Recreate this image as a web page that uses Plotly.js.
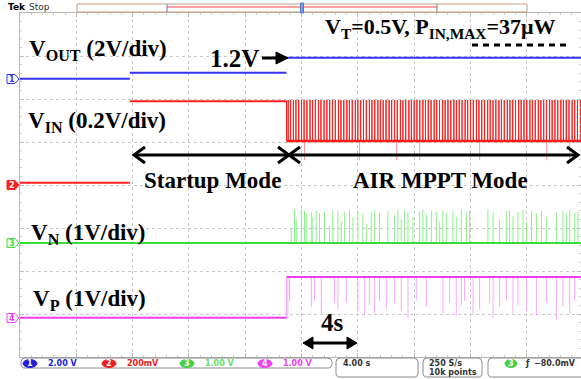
<!DOCTYPE html>
<html><head><meta charset="utf-8">
<script src="https://cdn.plot.ly/plotly-3.0.1.min.js"></script>
<style>body{margin:0;background:#fff}</style>
</head><body><div id="chart" style="width:581px;height:379px"></div>
<script>
// ---------------- data (time in s, voltages in V) ----------------
const endTime = 19.85;
const voutStepTimes = [-20, -12.2, -1.07, 19.85];
const voutStepLevels = [0, 0.28, 0.98];

const vinStepTimes = [-20, -12.2, -1.07];
const vinStepLevels = [0.01, 0.39, 0.205];
const vinSpikeTimes = [-0.95,-0.78,-0.58,-0.4,-0.2,0.0,0.18,0.38,0.6,0.78,0.98,1.2,1.38,1.6,1.8,2.0,2.2,2.4,2.62,2.8,3.0,3.22,3.4,3.6,3.82,4.0,4.2,4.4,4.6,4.82,5.0,5.2,5.42,5.6,5.8,6.0,6.22,6.4,6.6,6.8,7.02,7.2,7.4,7.62,7.8,8.0,8.2,8.4,8.62,8.8,9.0,9.2,9.42,9.6,9.8,10.02,10.2,10.4,10.6,10.82,11.0,11.2,11.4,11.62,11.8,12.0,12.2,12.42,12.6,12.8,13.0,13.22,13.4,13.6,13.8,14.02,14.2,14.4,14.62,14.8,15.0,15.2,15.42,15.6,15.8,16.0,16.22,16.4,16.6,16.82,17.0,17.2,17.4,17.62,17.8,18.0,18.2,18.42,18.6,18.8,19.0,19.22,19.4,19.6,19.8];
const vinSpikeTop = 0.395;
const vinDipTimes = [0.21, 4.12, 6.75, 8.39, 12.65, 17.41, 19.05];
const vinDipLevel = 0.115;

const vnSpikeTimes = [-0.73,-0.50,-0.38,-0.02,0.21,0.33,0.69,0.80,1.04,1.28,1.63,1.99,2.22,2.58,2.82,3.06,3.41,3.65,4.00,4.36,4.60,4.95,5.19,5.54,6.13,6.61,6.84,7.08,7.32,7.56,7.91,8.39,8.62,8.86,9.22,9.57,9.81,10.04,10.28,10.75,10.99,11.35,11.71,11.94,13.24,13.60,14.07,14.55,14.78,15.02,15.37,15.73,15.97,16.33,16.68,17.04,17.39,18.10,18.57,18.81,19.05,19.40,19.64];
const vnSpikeHeights = [0.35,0.78,0.55,0.78,0.75,0.7,0.72,0.6,0.75,0.7,0.72,0.4,0.76,0.74,0.5,0.72,0.77,0.6,0.74,0.68,0.45,0.72,0.76,0.7,0.74,0.65,0.78,0.55,0.76,0.72,0.6,0.74,0.77,0.68,0.75,0.72,0.5,0.76,0.7,0.74,0.6,0.78,0.72,0.76,0.78,0.7,0.55,0.74,0.76,0.62,0.72,0.77,0.5,0.74,0.7,0.76,0.6,0.72,0.75,0.68,0.77,0.7,0.74];

const vpStepTimes = [-20, -1.07, 19.85];
const vpStepLevels = [0, 0.95];
const vpDipTimes = [-0.97,-0.85,0.69,0.92,1.40,2.35,2.58,3.18,4.00,4.48,4.83,5.19,5.54,6.02,6.61,7.08,7.56,8.15,8.86,10.04,10.52,10.99,11.35,11.58,12.18,12.65,13.36,13.60,14.07,14.55,15.02,15.37,15.97,16.68,17.39,18.10,18.57,19.05,19.40];
const vpDipDepths = [0.95,0.55,0.7,0.55,0.85,0.6,0.75,0.6,0.8,0.9,0.65,0.85,0.55,0.75,0.6,0.8,0.95,0.55,0.7,0.85,0.6,0.9,0.65,0.55,0.85,0.75,0.6,0.95,0.7,0.55,0.85,0.65,0.8,0.9,0.6,1.0,0.7,0.85,0.55];

const chLabels = ['2.00 V', '200mV', '1.00 V', '1.00 V'];

// ---------------- channel display settings ----------------
const CH = {vout:{scale:2, gnd:2.47}, vin:{scale:0.2, gnd:0}, vn:{scale:1, gnd:-1.35}, vp:{scale:1, gnd:-3.09}};
const dv = (ch, v) => CH[ch].gnd + v / CH[ch].scale;

const C = {blue:'#3434f4', red:'#ff1e1e', redL:'#ff9a9a', green:'#3ade3a', greenL:'#8cf08c', mag:'#f23cf2', magL:'#f7a8f7'};

// step segments drawn without vertical connectors (fast edges are invisible on the scope)
const segs = (ch, times, levels) => {
  const x=[], y=[];
  for(let i=0;i<levels.length;i++){ x.push(times[i], times[i+1], null); y.push(dv(ch,levels[i]), dv(ch,levels[i]), null); }
  return {x, y};
};

// ---------------- traces ----------------
const traces = [];
// VOUT
{ const s = segs('vout', voutStepTimes, voutStepLevels);
  traces.push({x:s.x, y:s.y, mode:'lines', line:{color:C.blue, width:2}}); }
// VIN dips (faint)
{ const x=[], y=[]; vinDipTimes.forEach(t=>{x.push(t,t,null); y.push(dv('vin',vinStepLevels[2]), dv('vin',vinDipLevel), null);});
  traces.push({x, y, mode:'lines', line:{color:C.redL, width:1}}); }
// VIN startup part
{ const s = segs('vin', vinStepTimes.concat([vinStepTimes[2]]), vinStepLevels.slice(0,2));
  traces.push({x:s.x, y:s.y, mode:'lines', line:{color:C.red, width:2}}); }
// VIN MPPT part: baseline with spikes
{ const x=[], y=[];
  x.push(vinStepTimes[2], vinStepTimes[2]);
  y.push(dv('vin',vinStepLevels[1]), dv('vin',vinStepLevels[2]));
  vinSpikeTimes.forEach(t=>{ x.push(t,t,t); y.push(dv('vin',vinStepLevels[2]), dv('vin',vinSpikeTop), dv('vin',vinStepLevels[2])); });
  x.push(endTime); y.push(dv('vin',vinStepLevels[2]));
  traces.push({x, y, mode:'lines', line:{color:C.red, width:1}});
  traces.push({x:[vinStepTimes[2], endTime], y:[dv('vin',vinStepLevels[2]), dv('vin',vinStepLevels[2])], mode:'lines', line:{color:C.red, width:2.5}});
}
// VN spikes + baseline
{ const x=[], y=[]; const n=Math.min(vnSpikeTimes.length, vnSpikeHeights.length);
  for(let i=0;i<n;i++){ x.push(vnSpikeTimes[i], vnSpikeTimes[i], null); y.push(dv('vn',0), dv('vn',vnSpikeHeights[i]), null); }
  traces.push({x, y, mode:'lines', line:{color:C.greenL, width:1}});
  traces.push({x:[-20, endTime], y:[dv('vn',0), dv('vn',0)], mode:'lines', line:{color:C.green, width:2}}); }
// VP dips + step
{ const x=[], y=[]; const n=Math.min(vpDipTimes.length, vpDipDepths.length);
  for(let i=0;i<n;i++){ x.push(vpDipTimes[i], vpDipTimes[i], null); y.push(dv('vp',vpStepLevels[1]), dv('vp',vpStepLevels[1]-vpDipDepths[i]), null); }
  x.push(vpStepTimes[1], vpStepTimes[1], null); y.push(dv('vp',vpStepLevels[0]), dv('vp',vpStepLevels[1]), null);
  traces.push({x, y, mode:'lines', line:{color:C.magL, width:1}});
  const s = segs('vp', vpStepTimes, vpStepLevels);
  traces.push({x:s.x, y:s.y, mode:'lines', line:{color:C.mag, width:2}}); }

// ---------------- pixel helpers for decorations ----------------
const L=20, T=13, PW=561, PH=344;
const X = px => (px-L)/PW, Y = py => (T+PH-py)/PH;
const shapes = [], ann = [];
const line = (x0,y0,x1,y1,color,width,dash) => shapes.push({type:'line', xref:'paper', yref:'paper', x0:X(x0), y0:Y(y0), x1:X(x1), y1:Y(y1), line:{color, width, dash:dash||'solid'}});
const path = (pts, close, lineColor, width, fill) => {
  let s = pts.map((p,i)=>(i?'L':'M')+X(p[0]).toFixed(5)+','+Y(p[1]).toFixed(5)).join(' ');
  if(close) s += ' Z';
  shapes.push({type:'path', xref:'paper', yref:'paper', path:s, line:{color:lineColor, width}, fillcolor: fill||'rgba(0,0,0,0)'});
};
const rrect = (x0,y0,x1,y1,r,color) => {
  const P=(a,b)=>X(a).toFixed(5)+','+Y(b).toFixed(5);
  const s = `M ${P(x0+r,y0)} L ${P(x1-r,y0)} Q ${P(x1,y0)} ${P(x1,y0+r)} L ${P(x1,y1-r)} Q ${P(x1,y1)} ${P(x1-r,y1)} L ${P(x0+r,y1)} Q ${P(x0,y1)} ${P(x0,y1-r)} L ${P(x0,y0+r)} Q ${P(x0,y0)} ${P(x0+r,y0)} Z`;
  shapes.push({type:'path', xref:'paper', yref:'paper', path:s, line:{color, width:1}, fillcolor:'rgba(0,0,0,0)'});
};
const ell = (x0,y0,x1,y1,fill) => shapes.push({type:'circle', xref:'paper', yref:'paper', x0:X(x0), y0:Y(y0), x1:X(x1), y1:Y(y1), line:{color:fill, width:1}, fillcolor:fill});
const txt = (s, x, y, size, color, family, anchor) => ann.push({text:s, xref:'paper', yref:'paper', x:X(x), y:Y(y), xanchor:anchor||'left', yanchor:'middle', showarrow:false, borderpad:0, font:{size, color, family}});

const SERIF = 'Liberation Serif, Times New Roman, serif';
const SANS = 'DejaVu Sans, sans-serif';

// big labels
txt('<b>V<sub>OUT</sub> (2V/div)</b>', 28, 50, 23, '#000', SERIF);
txt('<b>1.2V</b>', 209, 58, 25, '#000', SERIF);
txt('<b>V<sub>T</sub>=0.5V, P<sub>IN,MAX</sub>=37μW</b>', 324, 28, 22, '#000', SERIF);
txt('<b>V<sub>IN</sub> (0.2V/div)</b>', 27, 122, 23, '#000', SERIF);
txt('<b>Startup Mode</b>', 143, 180, 23, '#000', SERIF);
txt('<b>AIR MPPT Mode</b>', 352, 180, 23, '#000', SERIF);
txt('<b>V<sub>N</sub> (1V/div)</b>', 30, 234, 23, '#000', SERIF);
txt('<b>V<sub>P</sub> (1V/div)</b>', 32, 300, 23, '#000', SERIF);
txt('<b>4s</b>', 320, 322, 25, '#000', SERIF);

// 1.2V arrow
line(262, 58, 279, 58, '#000', 3);
path([[276,52],[288,58],[276,64]], true, '#000', 1, '#000');
// dashed line under PIN,MAX
line(472, 45, 568, 45, '#000', 3, '6px,5px');
// Startup / MPPT double arrows
line(134, 155, 288, 155, '#000', 3);
line(290, 155, 577, 155, '#000', 3);
path([[145,147],[134,155],[145,163]], false, '#000', 3);
path([[278,147],[289,155],[278,163]], false, '#000', 3);
path([[300,147],[289,155],[300,163]], false, '#000', 3);
path([[567,147],[578,155],[567,163]], false, '#000', 3);
// 4s arrow
line(310, 343, 350, 343, '#000', 3);
path([[313,337],[303,343],[313,349]], true, '#000', 1, '#000');
path([[347,337],[357,343],[347,349]], true, '#000', 1, '#000');

// top record bar
txt('<b>Tek</b>', 7, 7, 9, '#000', SANS);
txt('Stop', 28, 7, 9, '#333', SANS);
shapes.push({type:'rect', xref:'paper', yref:'paper', x0:X(77), y0:Y(4), x1:X(527), y1:Y(12), line:{color:'#c79c7c', width:1}});
line(167, 7, 437, 7, '#ff4040', 1);
line(167, 4, 167, 12, '#5a78d0', 1);
line(437, 4, 437, 12, '#808080', 1);
shapes.push({type:'rect', xref:'paper', yref:'paper', x0:X(300.5), y0:Y(3), x1:X(303.5), y1:Y(13), line:{color:'#4a78d8', width:1}, fillcolor:'#7aa0e8'});

// ground markers
const gm = [[79,C.blue,'1',false],[185,C.red,'2',true],[243,C.green,'3',false],[318,C.mag,'4',false]];
gm.forEach(g=>{
  const y=g[0];
  path([[7,y-4.5],[15,y-4.5],[19,y],[15,y+4.5],[7,y+4.5]], true, g[1], 1, g[3]?g[1]:'#fff');
  txt('<b>'+g[2]+'</b>', 12, y, 8, g[3]?'#fff':g[1], SANS, 'center');
});

// bottom status bar
rrect(21, 358, 332, 368, 4, '#8a8a8a');
rrect(336, 358, 418, 377, 4, '#8a8a8a');
rrect(423, 358, 482, 377, 4, '#8a8a8a');
rrect(488, 358, 590, 377, 4, '#8a8a8a');
const chCol = ['#2020d8','#ee2020','#44d044','#f040f0'];
const chX = [23, 102, 180, 258];
chX.forEach((x,i)=>{
  ell(x, 359.5, x+14, 367.5, chCol[i]);
  txt('<b>'+(i+1)+'</b>', x+7, 363.5, 8, '#fff', SANS, 'center');
  txt('<b>'+chLabels[i]+'</b>', x+24, 363.5, 8, i==2?'#66dd66':chCol[i], SANS);
});
txt('<b>4.00 s</b>', 342, 363.5, 8, '#333', SANS);
txt('<b>250 S/s</b>', 428, 363.5, 8, '#333', SANS);
txt('<b>10k points</b>', 428, 372.5, 8, '#333', SANS);
ell(505, 359.5, 517, 367.5, '#44d044');
txt('<b>3</b>', 511, 363.5, 8, '#fff', SANS, 'center');
txt('<b>ƒ</b>', 524, 363.5, 8, '#333', SANS);
txt('<b>−80.0mV</b>', 533, 363.5, 8, '#333', SANS);

// ---------------- layout ----------------
const layout = {
  width:581, height:379, showlegend:false,
  paper_bgcolor:'#fff', plot_bgcolor:'#fff',
  margin:{l:L, r:0, t:T, b:379-T-PH, pad:0},
  xaxis:{range:[-20, endTime], tick0:0, dtick:4, showgrid:true, gridcolor:'#c8c8c8', griddash:'dot', gridwidth:1,
         zeroline:false, showticklabels:false, ticks:'inside', ticklen:4, tickcolor:'#bbb',
         minor:{dtick:0.8, ticks:'inside', ticklen:2, tickcolor:'#ccc', showgrid:false},
         showline:true, linecolor:'#b8b8b8', linewidth:1, mirror:'ticks', fixedrange:true},
  yaxis:{range:[-4,4], tick0:0, dtick:1, showgrid:true, gridcolor:'#c8c8c8', griddash:'dot', gridwidth:1,
         zeroline:false, showticklabels:false, ticks:'inside', ticklen:4, tickcolor:'#bbb',
         minor:{dtick:0.2, ticks:'inside', ticklen:2, tickcolor:'#ccc', showgrid:false},
         showline:true, linecolor:'#b8b8b8', linewidth:1, mirror:'ticks', fixedrange:true},
  shapes, annotations:ann
};
Plotly.newPlot('chart', traces, layout, {staticPlot:true, displayModeBar:false});
</script>
</body></html>
